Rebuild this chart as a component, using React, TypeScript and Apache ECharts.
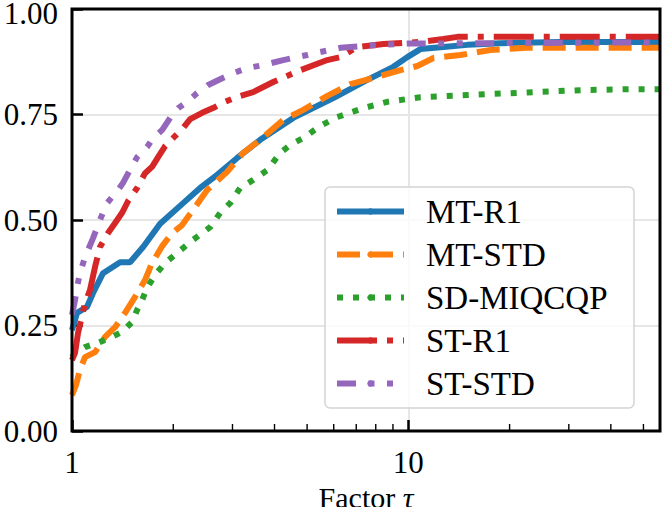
import React, { useEffect, useRef } from "react";
import * as echarts from "echarts";

const seriesNames = ["MT-R1", "MT-STD", "SD-MIQCQP", "ST-R1", "ST-STD"];
const seriesColors = ["#1f77b4", "#ff7f0e", "#2ca02c", "#d62728", "#9467bd"];

const mtR1: [number, number][] = [
  [1.0, 0.239], [1.035, 0.28], [1.108, 0.294], [1.155, 0.327], [1.237, 0.374],
  [1.39, 0.4], [1.488, 0.4], [1.627, 0.436], [1.828, 0.491], [2.14, 0.54],
  [2.404, 0.576], [2.701, 0.607], [3.098, 0.647], [3.627, 0.69], [4.548, 0.742],
  [5.981, 0.789], [7.551, 0.832], [9.024, 0.863], [9.93, 0.886], [10.86, 0.905],
  [12.71, 0.91], [14.98, 0.915], [18.79, 0.919], [28.35, 0.922], [56, 0.922],
];

const mtStd: [number, number][] = [
  [1.0, 0.085], [1.028, 0.109], [1.056, 0.145], [1.093, 0.175], [1.171, 0.187],
  [1.254, 0.223], [1.343, 0.246], [1.438, 0.28], [1.54, 0.318], [1.649, 0.358],
  [1.73, 0.398], [1.853, 0.438], [1.984, 0.469], [2.125, 0.488], [2.291, 0.524],
  [2.522, 0.571], [2.893, 0.614], [3.228, 0.659], [3.627, 0.69], [4.246, 0.737],
  [4.87, 0.761], [5.741, 0.794], [6.722, 0.822], [8.087, 0.839], [9.467, 0.855],
  [10.64, 0.865], [11.87, 0.884], [14.28, 0.891], [17.54, 0.903], [22.61, 0.908],
  [56, 0.908],
];

const sdMiqcqp: [number, number][] = [
  [1.0, 0.175], [1.021, 0.185], [1.093, 0.199], [1.195, 0.209], [1.315, 0.223],
  [1.409, 0.235], [1.509, 0.258], [1.562, 0.287], [1.615, 0.31], [1.672, 0.339],
  [1.766, 0.37], [1.892, 0.398], [2.054, 0.422], [2.291, 0.453], [2.575, 0.483],
  [2.758, 0.517], [2.953, 0.54], [3.162, 0.576], [3.457, 0.595], [3.805, 0.618],
  [4.159, 0.659], [4.455, 0.678], [4.87, 0.694], [5.47, 0.723], [6.148, 0.744],
  [7.346, 0.765], [8.66, 0.78], [10.86, 0.791], [14.98, 0.796], [23.55, 0.803],
  [33.18, 0.808], [46.72, 0.81], [56, 0.81],
];

const stR1: [number, number][] = [
  [1.0, 0.168], [1.021, 0.185], [1.042, 0.232], [1.093, 0.303], [1.131, 0.334],
  [1.171, 0.389], [1.211, 0.436], [1.28, 0.469], [1.343, 0.493], [1.409, 0.517],
  [1.468, 0.545], [1.562, 0.576], [1.649, 0.611], [1.73, 0.626], [1.803, 0.649],
  [1.892, 0.675], [2.025, 0.699], [2.14, 0.718], [2.245, 0.739], [2.437, 0.754],
  [2.666, 0.768], [2.854, 0.78], [3.098, 0.792], [3.457, 0.803], [3.965, 0.827],
  [4.771, 0.855], [5.741, 0.879], [6.277, 0.886], [7.05, 0.91], [8.427, 0.917],
  [10.86, 0.922], [12.71, 0.929], [13.99, 0.934], [56, 0.934],
];

const stStd: [number, number][] = [
  [1.0, 0.275], [1.021, 0.31], [1.035, 0.341], [1.056, 0.374], [1.093, 0.412],
  [1.155, 0.457], [1.211, 0.5], [1.271, 0.54], [1.371, 0.571], [1.418, 0.588],
  [1.488, 0.619], [1.562, 0.649], [1.672, 0.673], [1.742, 0.694], [1.853, 0.713],
  [1.958, 0.742], [2.069, 0.765], [2.199, 0.78], [2.355, 0.801], [2.54, 0.82],
  [2.796, 0.836], [3.015, 0.848], [3.318, 0.86], [3.702, 0.867], [4.246, 0.879],
  [5.006, 0.891], [5.47, 0.898], [6.277, 0.908], [7.197, 0.912], [8.254, 0.915],
  [9.93, 0.918], [16.72, 0.919], [56, 0.921],
];

const seriesData = [mtR1, mtStd, sdMiqcqp, stR1, stStd];
const dashPatterns: (string | number[])[] = [
  "solid",
  [23, 10],
  [6, 10],
  [40, 10, 6, 10],
  [19, 12.5, 6, 12.5, 6, 12.5],
];

const xMin = 1;
const xMax = 56;
const yTicks = [0, 0.25, 0.5, 0.75, 1.0];
const minorTicks = [2, 3, 4, 5, 6, 7, 8, 9, 20, 30, 40, 50];

const FONT = "'Liberation Serif', 'DejaVu Serif', serif";

export default function App() {
  const ref = useRef<HTMLDivElement>(null);
  useEffect(() => {
    if (!ref.current) return;
    const chart = echarts.init(ref.current, undefined, { renderer: "svg" });
    const lineSeries = seriesNames.map((name, i) => ({
      name,
      type: "line",
      data: seriesData[i],
      symbol: "none",
      showSymbol: false,
      color: seriesColors[i],
      lineStyle: { color: seriesColors[i], width: 6, type: dashPatterns[i], cap: "butt" },
      z: 2 + i * 0.01,
    }));
    chart.setOption({
      animation: false,
      grid: {
        left: 72,
        right: 5,
        top: 9,
        bottom: 76,
        show: true,
        borderColor: "#000",
        borderWidth: 3,
        containLabel: false,
        outerBoundsMode: "none",
        z: 10,
      },
      xAxis: {
        type: "log",
        logBase: 10,
        min: xMin,
        max: xMax,
        axisLine: { show: false },
        axisTick: { show: true, inside: true, length: 11, lineStyle: { color: "#000", width: 2.5 } },
        axisLabel: {
          fontFamily: FONT,
          fontSize: 31,
          color: "#000",
          margin: 16,
          showMaxLabel: false,
        },
        splitLine: { show: true, lineStyle: { color: "#e6e6e6", width: 2 } },
        name: "Factor {i|τ}",
        nameLocation: "middle",
        nameGap: 46,
        nameTextStyle: {
          fontFamily: FONT,
          fontSize: 30,
          lineHeight: 22,
          color: "#000",
          rich: {
            i: { fontFamily: FONT, fontSize: 30, lineHeight: 22, fontStyle: "italic", color: "#000" },
          },
        },
      },
      yAxis: {
        type: "value",
        min: 0,
        max: 1,
        interval: 0.25,
        axisLine: { show: false },
        axisTick: { show: true, inside: true, length: 11, lineStyle: { color: "#000", width: 2.5 } },
        axisLabel: {
          fontFamily: FONT,
          fontSize: 31,
          lineHeight: 20,
          color: "#000",
          margin: 14,
          formatter: (v: number) =>
            yTicks.includes(v) ? (v === 1 ? "{top|" + v.toFixed(2) + "}" : v.toFixed(2)) : "",
          rich: {
            top: { fontFamily: FONT, fontSize: 31, lineHeight: 20, padding: [8, 0, 0, 0], color: "#000" },
          },
        },
        splitLine: { show: true, lineStyle: { color: "#e6e6e6", width: 2 } },
      },
      legend: {
        data: seriesNames,
        orient: "vertical",
        left: 334,
        top: 195,
        padding: 0,
        itemWidth: 67,
        itemHeight: 8,
        itemGap: 10,
        z: 20,
        lineStyle: { width: 6 },
        textStyle: {
          fontFamily: FONT,
          fontSize: 33,
          lineHeight: 32,
          color: "#000",
          padding: [0, 0, 0, 17],
        },
      },
      graphic: [
        {
          type: "rect",
          z: 15,
          shape: { x: 325, y: 187, width: 309, height: 221, r: 5 },
          style: { fill: "rgba(255,255,255,0.8)", stroke: "#d4d4d4", lineWidth: 1.5 },
        },
      ],
      series: [
        ...lineSeries,
        {
          type: "custom",
          name: "minor",
          coordinateSystem: "cartesian2d",
          data: minorTicks.map((v) => [v, 0]),
          silent: true,
          clip: false,
          z: 12,
          renderItem: (params: any, api: any) => {
            const p = api.coord([api.value(0), 0]);
            return {
              type: "line",
              shape: { x1: p[0], y1: p[1], x2: p[0], y2: p[1] - 7 },
              style: { stroke: "#000", lineWidth: 1.4 },
            };
          },
        },
      ],
    });
    return () => chart.dispose();
  }, []);
  return (
    <div
      ref={ref}
      style={{ position: "fixed", left: 0, top: 0, width: 665, height: 507, background: "#fff" }}
    />
  );
}
